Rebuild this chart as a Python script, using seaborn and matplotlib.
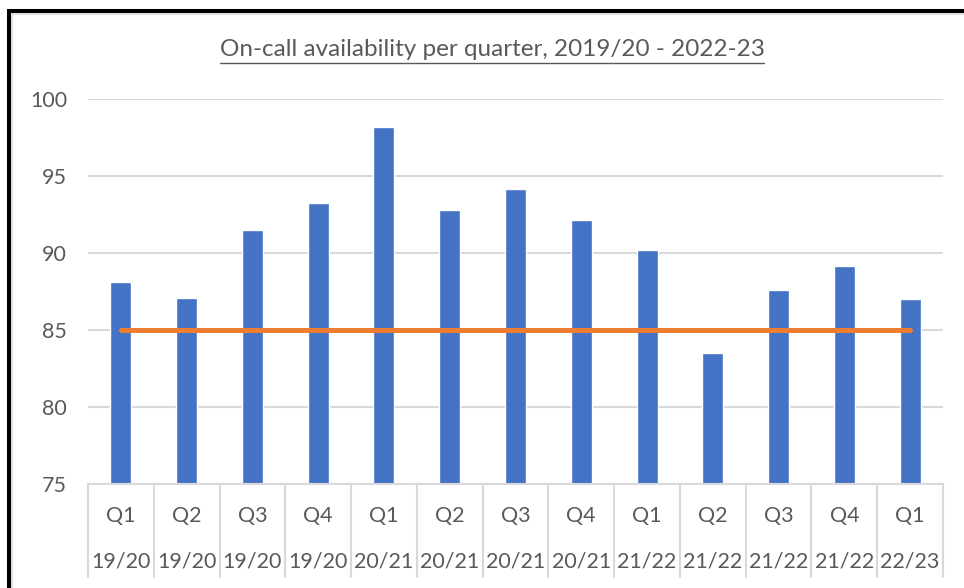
import matplotlib
matplotlib.use("Agg")
import matplotlib.pyplot as plt
import seaborn as sns
import numpy as np
from matplotlib.patches import Rectangle
from matplotlib.lines import Line2D

quarters = ["Q1", "Q2", "Q3", "Q4", "Q1", "Q2", "Q3", "Q4", "Q1", "Q2", "Q3", "Q4", "Q1"]
years = ["19/20", "19/20", "19/20", "19/20", "20/21", "20/21", "20/21", "20/21",
         "21/22", "21/22", "21/22", "21/22", "22/23"]
availability = [88.1, 87.1, 91.5, 93.25, 98.2, 92.8, 94.15, 92.15, 90.2, 83.5, 87.6, 89.15, 87.0]
target = [85] * 13

TEXT = "#595959"
GRID = "#D9D9D9"

sns.set_style("white")
plt.rcParams["font.family"] = ["Lato", "DejaVu Sans"]

fig = plt.figure(figsize=(9.64, 5.88), dpi=100)
ax = fig.add_axes([88 / 964, 1 - 484 / 588, (943 - 88) / 964, (484 - 99) / 588])

periods = [f"{q} {y}" for q, y in zip(quarters, years)]
sns.barplot(x=periods, y=availability, color="#4472C4", width=0.32, saturation=1, ax=ax, zorder=2)
sns.lineplot(x=np.arange(len(target)), y=target, color="#ED7D31", linewidth=3.6, ax=ax, zorder=3)

ax.set_ylim(75, 100)
ax.set_xlim(-0.5, len(periods) - 0.5)
ax.set_yticks([75, 80, 85, 90, 95, 100])
ax.yaxis.grid(True, color=GRID, linewidth=1.5, zorder=0)
ax.set_axisbelow(True)
ax.tick_params(axis="y", length=0, pad=15, labelsize=15.5, labelcolor=TEXT)
ax.set_xticks(range(len(periods)))
ax.set_xticklabels([])
ax.tick_params(axis="x", length=0)
for s in ["top", "right", "left"]:
    ax.spines[s].set_visible(False)
ax.spines["bottom"].set_color(GRID)
ax.spines["bottom"].set_linewidth(1.5)
ax.set_xlabel("")
ax.set_ylabel("")

# two-level category axis
tr = ax.get_xaxis_transform()
h = 484 - 99
for i, (q, y) in enumerate(zip(quarters, years)):
    ax.text(i, -(516 - 484) / h, q, transform=tr, ha="center", va="center",
            fontsize=15.5, color=TEXT)
    ax.text(i, -(562 - 484) / h, y, transform=tr, ha="center", va="center",
            fontsize=15.5, color=TEXT)
for i in range(len(periods) + 1):
    ax.plot([i - 0.5, i - 0.5], [0, -(577 - 484) / h], transform=tr, color=GRID,
            linewidth=1.5, clip_on=False)

title = fig.text(492 / 964, 1 - 50 / 588, "On-call availability per quarter, 2019/20 - 2022-23",
                 ha="center", va="center", fontsize=17.5, color=TEXT)
fig.canvas.draw()
bb = title.get_window_extent().transformed(fig.transFigure.inverted())
fig.add_artist(Line2D([bb.x0, bb.x1], [1 - 63 / 588] * 2, color=TEXT, linewidth=1))

# frame (black border, light inner edge)
fig.add_artist(Rectangle((9 / 964, -0.5), 2, 0.5 + 1 - 11 / 588, transform=fig.transFigure,
                         fill=False, edgecolor="black", linewidth=2.9))
fig.add_artist(Rectangle((12 / 964, -0.5), 2, 0.5 + 1 - 14 / 588, transform=fig.transFigure,
                         fill=False, edgecolor=GRID, linewidth=1.2))

fig.savefig("out.png", dpi=100)
